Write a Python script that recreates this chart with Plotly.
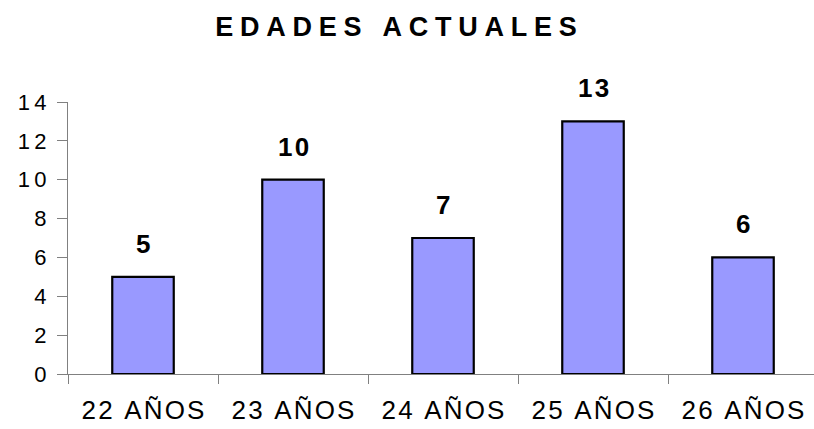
import plotly.graph_objects as go

categories = ["22 AÑOS", "23 AÑOS", "24 AÑOS", "25 AÑOS", "26 AÑOS"]
values = [5, 10, 7, 13, 6]
y_ticks = [0, 2, 4, 6, 8, 10, 12, 14]
title_text = "EDADES ACTUALES"

FONT = "Liberation Sans, Arial, sans-serif"
THIN = "\u2009"
HAIR = "\u200A"


def spaced(s, sep=THIN):
    return sep.join(list(s))


fig = go.Figure()
fig.add_trace(go.Bar(
    x=categories,
    y=values,
    width=0.41,
    marker=dict(color="#9999FF", line=dict(color="#000000", width=2.2)),
    hoverinfo="skip",
))

for c, v in zip(categories, values):
    fig.add_annotation(
        x=c, y=v, xref="x", yref="y",
        text="<b>" + spaced(str(v), HAIR) + "</b>",
        showarrow=False, yanchor="bottom", yshift=16,
        font=dict(family=FONT, size=26, color="#000000"),
    )

fig.update_layout(
    template="none",
    width=814, height=429,
    margin=dict(l=68, r=0, t=101.5, b=55, pad=0),
    paper_bgcolor="#FFFFFF", plot_bgcolor="#FFFFFF",
    showlegend=False,
    title=dict(
        text="<b>" + spaced(title_text, "\u2005") + "</b>",
        xref="container", x=396 / 814, xanchor="center",
        yref="container", y=(429 - 27) / 429, yanchor="middle",
        font=dict(family=FONT, size=27, color="#000000"),
    ),
    font=dict(family=FONT, color="#000000"),
)

fig.update_xaxes(
    type="category",
    automargin=False,
    range=[-0.5, -0.5 + 746 / 150],
    tickmode="array",
    tickvals=categories,
    ticktext=[spaced(c, HAIR) for c in categories],
    tickson="boundaries",
    ticks="outside", ticklen=9, tickwidth=1, tickcolor="#808080",
    showline=True, linecolor="#808080", linewidth=1,
    showgrid=False, zeroline=False,
    tickfont=dict(family=FONT, size=26, color="#000000"),
    ticklabelstandoff=13,
)
fig.update_yaxes(
    automargin=False,
    range=[0, 14],
    tickmode="array",
    tickvals=y_ticks,
    ticktext=[spaced(str(t)) for t in y_ticks],
    ticks="outside", ticklen=10, tickwidth=1, tickcolor="#808080",
    showline=True, linecolor="#808080", linewidth=1,
    showgrid=False, zeroline=False,
    tickfont=dict(family=FONT, size=22, color="#000000"),
    ticklabelstandoff=6,
)

fig.write_html(
    "out.html",
    config={"displayModeBar": False},
    post_script="document.body.style.margin='0';document.body.style.overflow='hidden';",
)
